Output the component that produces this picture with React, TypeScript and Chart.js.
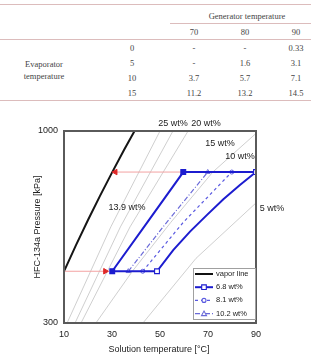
import React, { useEffect, useRef } from 'react';
import { Chart, registerables } from 'chart.js';

Chart.register(...registerables);

// ---------- table data ----------
const genTemps = ['70', '80', '90'];
const evapTemps = ['0', '5', '10', '15'];
const tableValues = [
  ['-', '-', '0.33'],
  ['-', '1.6', '3.1'],
  ['3.7', '5.7', '7.1'],
  ['11.2', '13.2', '14.5'],
];

// ---------- chart data (T in °C, P in kPa) ----------
const vaporT = [10, 15, 20, 25, 30, 35, 40];
const vaporP = [414.6, 488.8, 572.1, 665.8, 770.2, 887.5, 1016.6];

const iso25T = [11.3, 29.5, 50];
const iso25P = [300, 548, 1000];
const iso20T = [14.6, 33.5, 55.4];
const iso20P = [300, 548, 1000];
const iso15T = [17.1, 37.5, 61.7];
const iso15P = [300, 548, 1000];
const iso10T = [23.3, 38.5, 54.5, 72, 90];
const iso10P = [300, 415, 564, 773, 985];
const iso5T = [42.9, 65, 90];
const iso5P = [300, 450, 637];

const cycle68T = [30.1, 48.75, 55.5, 62.5, 69.5, 76.4, 83.3, 90, 59.7, 44.7, 30.1];
const cycle68P = [415, 415, 474, 532, 590, 652, 713, 773, 773, 564, 415];
const cycle81T = [42.8, 59.7, 79.9];
const cycle81P = [415, 564, 773];
const cycle102T = [36.8, 52.8, 69.9];
const cycle102P = [415, 564, 773];

const arrowHighT = [59.7, 31.4];
const arrowHighP = [773, 773];
const arrowLowT = [10, 27.2];
const arrowLowP = [415, 415];

const xTicks = [10, 30, 50, 70, 90];
const yTicks = [300, 1000];

const isoLabels = [
  { text: '25 wt%', t: 55.4, p: 1048 },
  { text: '20 wt%', t: 69.2, p: 1048 },
  { text: '15 wt%', t: 75, p: 927 },
  { text: '10 wt%', t: 83.3, p: 850 },
  { text: '5 wt%', t: 96.7, p: 615 },
  { text: '13.9 wt%', t: 36.25, p: 617 },
];

const pts = (t: number[], p: number[]) => t.map((x, i) => ({ x, y: p[i] }));

const BLUE = '#1c1ccf';
const BLUE2 = '#5a5ae0';
const BLUE3 = '#6a6ad8';
const GRAY = '#c9c9c9';
const FONT = '"Liberation Sans", Arial, Helvetica, sans-serif';

const legendItems = [
  { label: 'vapor line', color: '#111', dash: [] as number[], width: 2, marker: '' },
  { label: '6.8 wt%', color: BLUE, dash: [] as number[], width: 2, marker: 'rect' },
  { label: '8.1 wt%', color: BLUE2, dash: [3, 3], width: 1.2, marker: 'circle' },
  { label: '10.2 wt%', color: BLUE3, dash: [5, 2, 1, 2], width: 1.2, marker: 'triangle' },
];

function drawMarker(ctx: CanvasRenderingContext2D, kind: string, x: number, y: number, color: string) {
  ctx.save();
  ctx.setLineDash([]);
  ctx.fillStyle = '#fff';
  ctx.strokeStyle = color;
  ctx.lineWidth = 1.1;
  ctx.beginPath();
  if (kind === 'rect') ctx.rect(x - 2.3, y - 2.3, 4.6, 4.6);
  else if (kind === 'circle') ctx.arc(x, y, 2, 0, Math.PI * 2);
  else if (kind === 'triangle') {
    ctx.moveTo(x, y - 2.5);
    ctx.lineTo(x + 2.5, y + 2);
    ctx.lineTo(x - 2.5, y + 2);
    ctx.closePath();
  }
  ctx.fill();
  ctx.stroke();
  ctx.restore();
}

const deco = {
  id: 'deco',
  afterDatasetsDraw(chart: any) {
    const { ctx, chartArea: ca, scales } = chart;
    const xs = scales.x;
    const ys = scales.y;
    ctx.save();
    // plot frame
    ctx.strokeStyle = '#5a5a5a';
    ctx.lineWidth = 2;
    ctx.strokeRect(ca.left, ca.top, ca.right - ca.left, ca.bottom - ca.top);

    // iso-concentration labels
    ctx.fillStyle = '#222';
    ctx.font = `9px ${FONT}`;
    ctx.textAlign = 'center';
    ctx.textBaseline = 'middle';
    for (const l of isoLabels) {
      ctx.fillText(l.text, xs.getPixelForValue(l.t), ys.getPixelForValue(l.p));
    }

    // legend
    const bx = ca.right - 63;
    const by = ca.bottom - 55;
    const bw = 62;
    const bh = 51;
    ctx.fillStyle = '#fff';
    ctx.fillRect(bx, by, bw, bh);
    ctx.strokeStyle = '#a0a0a0';
    ctx.lineWidth = 1;
    ctx.strokeRect(bx + 0.5, by + 0.5, bw, bh);
    ctx.font = `7.5px ${FONT}`;
    ctx.textAlign = 'left';
    legendItems.forEach((it, i) => {
      const y = by + 6 + i * 13.2;
      ctx.strokeStyle = it.color;
      ctx.lineWidth = it.width;
      ctx.setLineDash(it.dash);
      ctx.beginPath();
      ctx.moveTo(bx + 2, y);
      ctx.lineTo(bx + 20, y);
      ctx.stroke();
      ctx.setLineDash([]);
      if (it.marker) drawMarker(ctx, it.marker, bx + 11, y, it.color);
      ctx.fillStyle = '#222';
      ctx.fillText(it.label, bx + 23, y);
    });

    // axis titles
    ctx.fillStyle = '#222';
    ctx.font = `9px ${FONT}`;
    ctx.textAlign = 'center';
    ctx.fillText('Solution temperature [°C]', (ca.left + ca.right) / 2 - 1, ca.bottom + 26.5);
    ctx.translate(38, (ca.top + ca.bottom) / 2);
    ctx.rotate(-Math.PI / 2);
    ctx.fillText('HFC-134a Pressure [kPa]', 0, 0);
    ctx.restore();
  },
};

function ChartView() {
  const ref = useRef<HTMLCanvasElement | null>(null);
  useEffect(() => {
    if (!ref.current) return;
    const line = (label: string, t: number[], p: number[], extra: any) => ({
      label,
      data: pts(t, p),
      showLine: true,
      pointRadius: 0,
      pointHoverRadius: 0,
      borderWidth: 1,
      fill: false,
      tension: 0,
      ...extra,
    });
    const r68 = cycle68T.map((_, i) => (i === 0 || i === 1 || i === 7 || i === 8 ? 3.4 : 0));
    const bg68 = cycle68T.map((_, i) => (i === 0 || i === 8 ? BLUE : '#fff'));
    const chart = new Chart(ref.current, {
      type: 'scatter',
      data: {
        datasets: [
          line('iso25', iso25T, iso25P, { borderColor: GRAY, borderWidth: 0.9, order: 20 }),
          line('iso20', iso20T, iso20P, { borderColor: GRAY, borderWidth: 0.9, order: 20 }),
          line('iso15', iso15T, iso15P, { borderColor: GRAY, borderWidth: 0.9, order: 20 }),
          line('iso10', iso10T, iso10P, { borderColor: GRAY, borderWidth: 0.9, order: 20 }),
          line('iso5', iso5T, iso5P, { borderColor: GRAY, borderWidth: 0.9, order: 20 }),
          line('vapor line', vaporT, vaporP, { borderColor: '#151515', borderWidth: 2, order: 10 }),
          line('arrowHigh', arrowHighT, arrowHighP, {
            borderColor: '#f3a3a3',
            borderWidth: 1,
            pointRadius: [0, 3.2],
            pointStyle: 'triangle',
            pointRotation: -90,
            pointBackgroundColor: '#e02828',
            pointBorderColor: '#e02828',
            order: 9,
          }),
          line('arrowLow', arrowLowT, arrowLowP, {
            borderColor: '#f3a3a3',
            borderWidth: 1,
            pointRadius: [0, 3.2],
            pointStyle: 'triangle',
            pointRotation: 90,
            pointBackgroundColor: '#e02828',
            pointBorderColor: '#e02828',
            order: 9,
          }),
          line('10.2 wt%', cycle102T, cycle102P, {
            borderColor: BLUE3,
            borderWidth: 1.2,
            borderDash: [5, 2, 1, 2],
            pointRadius: [2.6, 0, 2.6],
            pointStyle: 'triangle',
            pointBackgroundColor: '#fff',
            pointBorderColor: BLUE3,
            pointBorderWidth: 1,
            order: 5,
          }),
          line('8.1 wt%', cycle81T, cycle81P, {
            borderColor: BLUE2,
            borderWidth: 1.2,
            borderDash: [3, 3],
            pointRadius: [2, 0, 2],
            pointStyle: 'circle',
            pointBackgroundColor: '#fff',
            pointBorderColor: BLUE2,
            pointBorderWidth: 1,
            order: 5,
          }),
          line('6.8 wt%', cycle68T, cycle68P, {
            borderColor: BLUE,
            borderWidth: 2,
            pointRadius: r68,
            pointStyle: 'rect',
            pointBackgroundColor: bg68,
            pointBorderColor: BLUE,
            pointBorderWidth: 1.1,
            order: 1,
          }),
        ],
      },
      options: {
        animation: false,
        responsive: false,
        events: [],
        layout: { padding: { left: 0, right: 55, top: 21, bottom: 0 } },
        plugins: { legend: { display: false }, tooltip: { enabled: false } },
        scales: {
          x: {
            type: 'linear',
            min: 10,
            max: 90,
            grid: { display: false, drawTicks: false },
            border: { display: false },
            afterBuildTicks: (s: any) => {
              s.ticks = xTicks.map((v) => ({ value: v }));
            },
            ticks: { color: '#222', font: { size: 9, family: FONT }, padding: 6 },
            afterFit: (s: any) => {
              s.height = 35;
            },
          },
          y: {
            type: 'logarithmic',
            min: 300,
            max: 1000,
            grid: { display: false, drawTicks: false },
            border: { display: false },
            afterBuildTicks: (s: any) => {
              s.ticks = yTicks.map((v) => ({ value: v }));
            },
            ticks: {
              color: '#222',
              font: { size: 9, family: FONT },
              padding: 6,
              callback: (v: any) => String(v),
            },
            afterFit: (s: any) => {
              s.width = 64;
            },
          },
        },
      },
      plugins: [deco],
    } as any);
    return () => chart.destroy();
  }, []);
  return <canvas ref={ref} width={311} height={248} style={{ position: 'absolute', left: 0, top: 110, width: 311, height: 248 }} />;
}

const cell = (x: number, y: number, text: string, key: string) => (
  <div
    key={key}
    style={{
      position: 'absolute',
      left: x,
      top: y,
      transform: 'translate(-50%, -50%)',
      whiteSpace: 'nowrap',
      lineHeight: '1',
    }}
  >
    {text}
  </div>
);

const rule = (x: number, y: number, w: number, key: string) => (
  <div key={key} style={{ position: 'absolute', left: x, top: y, width: w, height: 1, background: '#dcbcbc' }} />
);

export default function App() {
  const colX = [194, 245, 296];
  const rowY = [47.5, 62.5, 77.5, 92.5];
  return (
    <div
      style={{
        position: 'fixed',
        left: 0,
        top: 0,
        width: 311,
        height: 358,
        background: '#fff',
        overflow: 'hidden',
        fontFamily: '"Liberation Serif", "Times New Roman", serif',
        fontSize: '8.5px',
        color: '#444',
      }}
    >
      {rule(0, 4, 311, 'r0')}
      {cell(247, 16, 'Generator temperature', 'gt')}
      {rule(170, 23, 141, 'r1')}
      {genTemps.map((g, i) => cell(colX[i], 32, g, 'g' + i))}
      {rule(0, 39, 311, 'r2')}
      {cell(44, 63.5, 'Evaporator', 'ev1')}
      {cell(44, 75.5, 'temperature', 'ev2')}
      {evapTemps.map((e, i) => cell(132, rowY[i], e, 'e' + i))}
      {tableValues.map((row, r) => row.map((v, c) => cell(colX[c], rowY[r], v, `v${r}${c}`)))}
      {rule(0, 100, 311, 'r3')}
      <ChartView />
    </div>
  );
}
